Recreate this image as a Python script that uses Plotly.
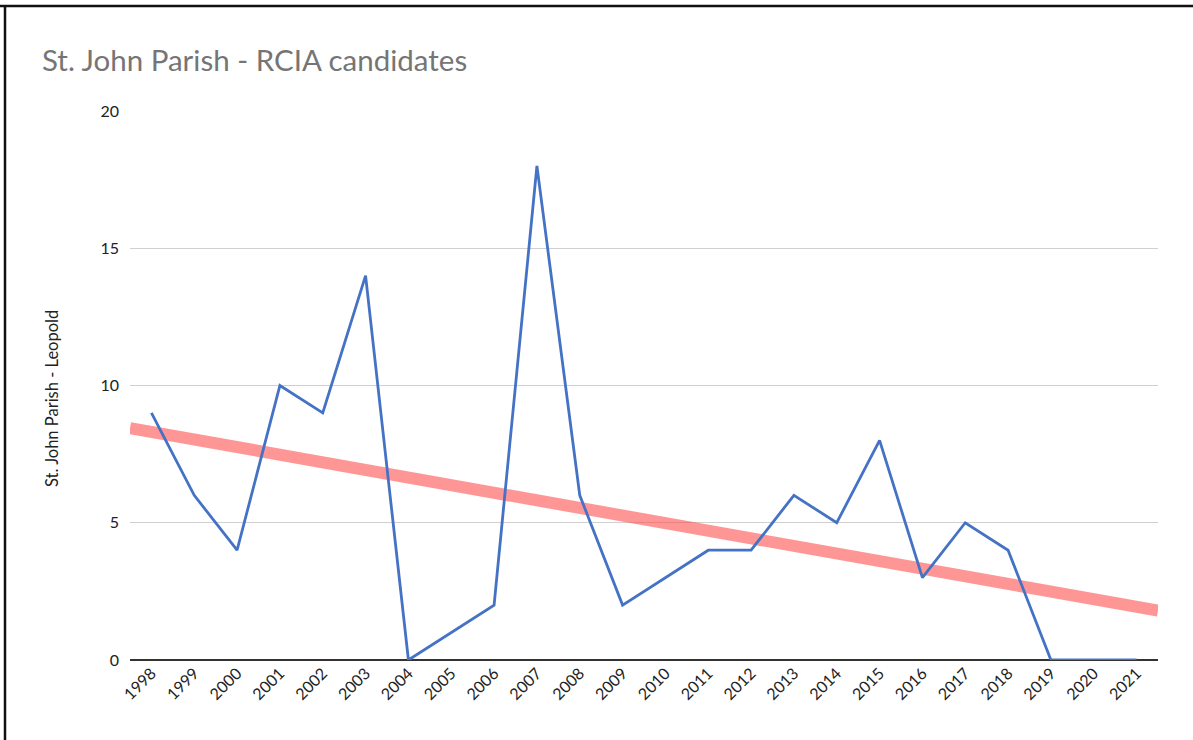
import numpy as np
import plotly.graph_objects as go

years = [str(y) for y in range(1998, 2022)]
candidates = [9, 6, 4, 10, 9, 14, 0, 1, 2, 18, 6, 2, 3, 4, 4, 6, 5, 8, 3, 5, 4, 0, 0, 0]
y_ticks = [0, 5, 10, 15, 20]

idx = np.arange(len(years))
slope, intercept = np.polyfit(idx, candidates, 1)
trend_x = [-0.5, len(years) - 0.5]
trend_y = [intercept + slope * x for x in trend_x]

W, H = 1193, 740
L, R, T, B = 130, 35, 111, 80
pw, ph = W - L - R, H - T - B
FONT = "Lato, 'Open Sans', sans-serif"

fig = go.Figure()
fig.add_trace(go.Scatter(x=trend_x, y=trend_y, mode="lines",
                         line=dict(color="rgba(255,80,80,0.6)", width=12),
                         showlegend=False, hoverinfo="skip"))
fig.add_trace(go.Scatter(x=idx, y=candidates, mode="lines",
                         line=dict(color="#4472C4", width=2.8),
                         showlegend=False, cliponaxis=False))

fig.update_layout(
    width=W, height=H,
    margin=dict(l=L, r=R, t=T, b=B),
    paper_bgcolor="white", plot_bgcolor="white",
    font=dict(family=FONT, color="#222222", size=16),
    title=dict(text="St. John Parish - RCIA candidates", x=42 / W, xanchor="left",
               y=1 - 61 / H, yanchor="middle",
               font=dict(size=29.5, color="#757575", family=FONT)),
    xaxis=dict(range=[-0.5, len(years) - 0.5], tickmode="array", tickvals=list(idx),
               ticktext=years, tickangle=-45, showgrid=False, zeroline=False,
               showline=False, ticks="", tickfont=dict(size=16, color="#222222")),
    yaxis=dict(range=[0, 20], tickmode="array", tickvals=y_ticks,
               ticktext=[str(v) for v in y_ticks],
               showgrid=True, gridcolor="#d0d0d0", gridwidth=1,
               zeroline=True, zerolinecolor="#333333", zerolinewidth=1.5,
               showline=False, ticks="", ticklabelstandoff=10,
               tickfont=dict(size=16, color="#222222")),
    annotations=[
        dict(text="St. John Parish - Leopold", textangle=-90, showarrow=False,
             xref="paper", yref="paper", x=(52 - L) / pw, y=(H - B - 399) / ph,
             xanchor="center", yanchor="middle",
             font=dict(size=16.5, color="#222222", family=FONT)),
    ],
    shapes=[
        dict(type="line", xref="paper", yref="paper",
             x0=(0 - L) / pw, x1=(W - L) / pw,
             y0=(H - B - 6) / ph, y1=(H - B - 6) / ph,
             line=dict(color="#111111", width=2.5)),
        dict(type="line", xref="paper", yref="paper",
             x0=(5 - L) / pw, x1=(5 - L) / pw,
             y0=(H - B - 6) / ph, y1=(H - B - H) / ph,
             line=dict(color="#111111", width=2.5)),
    ],
)

fig.write_html("out.html", config={"displayModeBar": False},
               post_script="document.body.style.margin='0px';")
